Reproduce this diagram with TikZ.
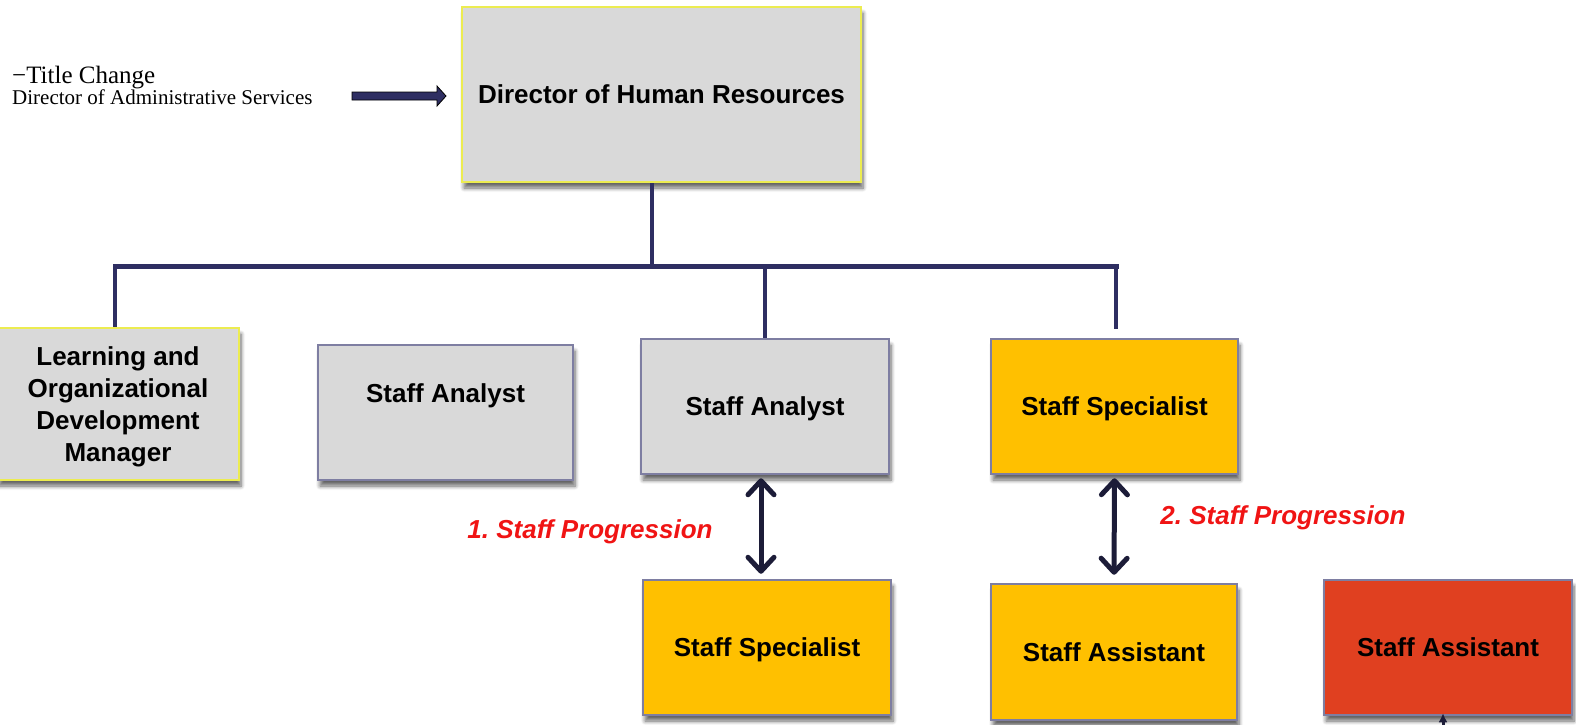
\documentclass[tikz,border=0pt]{standalone}
\usepackage{fontspec}
\setmainfont{Liberation Sans}
\newfontfamily\timesfont{Liberation Serif}
\usetikzlibrary{arrows.meta,shadows.blur,calc}
\frenchspacing

\definecolor{boxgray}{HTML}{D9D9D9}
\definecolor{boxgold}{HTML}{FFC000}
\definecolor{boxred}{HTML}{E04020}
\definecolor{edgeblue}{HTML}{7E7EA2}
\definecolor{edgeyellow}{HTML}{ECEC50}
\definecolor{treeline}{HTML}{2E2E62}
\definecolor{progline}{HTML}{1C1C38}
\definecolor{progred}{HTML}{F01414}

\tikzset{
  box/.style={rectangle, line width=2.5pt, draw=edgeblue, inner sep=0pt,
    align=center, text depth=0pt, font=\fontsize{26}{32}\selectfont\bfseries,
    blur shadow={shadow xshift=2pt, shadow yshift=-6pt, shadow opacity=60,
      shadow blur radius=4pt, shadow blur steps=6}},
  graybox/.style={box, fill=boxgray},
  hibox/.style={box, fill=boxgray, draw=edgeyellow},
  goldbox/.style={box, fill=boxgold},
  redbox/.style={box, fill=boxred},
  tree/.style={draw=treeline, line width=4pt},
  bus/.style={draw=treeline, line width=5pt, line cap=rect},
  prog/.style={draw=progline, line width=5pt,
    {Straight Barb[length=14pt, width=26pt, round]}-{Straight Barb[length=14pt, width=26pt, round]}},
  proglabel/.style={text=progred, text depth=0pt, font=\fontsize{26}{30}\selectfont\bfseries\itshape},
  note/.style={anchor=base west, inner sep=0pt, font=\timesfont},
  blockarrow/.style={fill=treeline, draw=black, line width=0.8pt, line join=miter},
}

\begin{document}
\begin{tikzpicture}[x=1pt, y=-1pt]
\useasboundingbox (0,0) rectangle (1576,724);

% top of the chart
\node[hibox, minimum width=399pt, minimum height=175pt] (dir) at (661.5,94.5)
  {Director of Human Resources};

% second row
\node[hibox, minimum width=242pt, minimum height=152pt] (lod) at (118,404)
  {Learning and\\Organizational\\Development\\Manager};
\node[graybox, minimum width=255pt, minimum height=135pt] (sa1) at (445.5,412.5)
  {\raisebox{39pt}{Staff Analyst}};
\node[graybox, minimum width=248pt, minimum height=135pt] (sa2) at (765,406.5)
  {Staff Analyst};
\node[goldbox, minimum width=247pt, minimum height=135pt] (ssp1) at (1114.5,406.5)
  {Staff Specialist};

% third row
\node[goldbox, minimum width=248pt, minimum height=135pt] (ssp2) at (767,647.5)
  {Staff Specialist};
\node[goldbox, minimum width=246pt, minimum height=136pt] (sas1) at (1114,652)
  {Staff Assistant};
\node[redbox, minimum width=248pt, minimum height=135pt] (sas2) at (1448,647.5)
  {Staff Assistant};

% reporting lines
\coordinate (busD) at (652,266);
\coordinate (busL) at (115,266);
\coordinate (busR) at (1116,266);
\coordinate (busS) at (1116,329);
\draw[tree] (busD |- dir.south) -- (busD);
\draw[bus] (busL) -- (busR);
\draw[tree] (busL) -- (busL |- lod.north);
\draw[tree] (sa2.north |- busL) -- (sa2.north);
\draw[tree] (busR) -- (busS);

% progression arrows
\draw[prog, shorten <=3pt, shorten >=5pt]
  ([xshift=-4pt]sa2.south) -- ([xshift=-4pt]sa2.south |- ssp2.north);
\draw[prog, shorten <=3pt, shorten >=8pt] (ssp1.south) -- (sas1.north);
\node[proglabel] (pl1) at (590,529) {1. Staff Progression};
\node[proglabel] (pl2) at (1283,515) {2. Staff Progression};

% arrow coming up into the red box
\coordinate (below) at (1443,760);
\draw[draw=progline, line width=3pt, -{Latex[length=9pt, width=9pt]}, shorten >=-3pt]
  (below) -- (below |- sas2.south);

% title change note
\node[note, font=\timesfont\fontsize{25}{28}\selectfont] (tc1) at (12,83) {−Title Change};
\node[note, font=\timesfont\fontsize{21}{24}\selectfont] (tc2) at (12,104)
  {Director of Administrative Services};
\coordinate (tip) at (446,96);
\draw[blockarrow] (tip) -- ++(-9,-10) -- ++(0,6) -- ++(-85,0) -- ++(0,8)
  -- ++(85,0) -- ++(0,6) -- cycle;
\end{tikzpicture}
\end{document}
